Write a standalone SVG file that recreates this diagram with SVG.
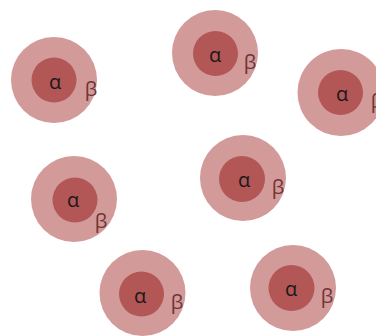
<svg xmlns="http://www.w3.org/2000/svg" width="376" height="336" viewBox="0 0 376 336">
  <style>
    .outer { fill: #d39a9a; }
    .inner { fill: #b35656; }
    .a { font-family: "Open Sans", "DejaVu Sans", sans-serif; font-size: 20px; fill: #1a1a1a; text-anchor: middle; dominant-baseline: central; }
    .b { font-family: "Open Sans", "DejaVu Sans", sans-serif; font-size: 20px; fill: #6e3434; text-anchor: middle; dominant-baseline: central; }
  </style>
  <rect width="376" height="336" fill="#ffffff"/>
  <g id="connectors"/>
  <g id="n1">
    <circle class="outer" cx="54" cy="80" r="43"/>
    <circle class="inner" cx="54" cy="80" r="22.5"/>
    <text class="a" x="55" y="81">α</text>
    <text class="b" x="91" y="88">β</text>
  </g>
  <g id="n2">
    <circle class="outer" cx="215" cy="53" r="43"/>
    <circle class="inner" cx="215.5" cy="53.5" r="22.5"/>
    <text class="a" x="215" y="54">α</text>
    <text class="b" x="250" y="61">β</text>
  </g>
  <g id="n3">
    <circle class="outer" cx="341" cy="92.5" r="43.5"/>
    <circle class="inner" cx="340.5" cy="92.5" r="22.5"/>
    <text class="a" x="342" y="93.5">α</text>
    <text class="b" x="377" y="100">β</text>
  </g>
  <g id="n4">
    <circle class="outer" cx="74" cy="199" r="43"/>
    <circle class="inner" cx="75" cy="200" r="22.5"/>
    <text class="a" x="73" y="199">α</text>
    <text class="b" x="101" y="220">β</text>
  </g>
  <g id="n5">
    <circle class="outer" cx="243" cy="178" r="43"/>
    <circle class="inner" cx="242" cy="179" r="23"/>
    <text class="a" x="244" y="179">α</text>
    <text class="b" x="278" y="186">β</text>
  </g>
  <g id="n6">
    <circle class="outer" cx="142.5" cy="293" r="43"/>
    <circle class="inner" cx="141.5" cy="294" r="22.5"/>
    <text class="a" x="140" y="295">α</text>
    <text class="b" x="177" y="301">β</text>
  </g>
  <g id="n7">
    <circle class="outer" cx="293" cy="288" r="43"/>
    <circle class="inner" cx="291.5" cy="288" r="23"/>
    <text class="a" x="291" y="288">α</text>
    <text class="b" x="327" y="295">β</text>
  </g>
</svg>
